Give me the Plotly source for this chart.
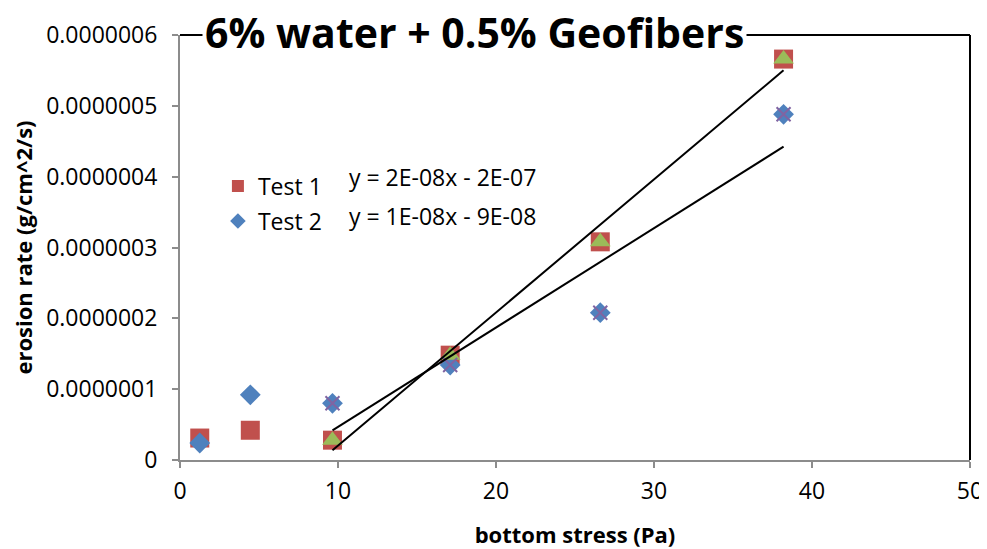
import numpy as np
import plotly.graph_objects as go

# bottom stress (Pa)
stress = [1.25, 4.45, 9.65, 17.1, 26.6, 38.2]
test1 = [3.1e-8, 4.2e-8, 2.8e-8, 1.48e-7, 3.08e-7, 5.66e-7]
test2 = [2.4e-8, 9.2e-8, 8.0e-8, 1.34e-7, 2.08e-7, 4.88e-7]

# points used for the trendlines (last four of each test)
fit_x = stress[2:]
fit1 = test1[2:]
fit2 = test2[2:]

y_ticks = [0, 1e-7, 2e-7, 3e-7, 4e-7, 5e-7, 6e-7]
y_labels = ["0", "0.0000001", "0.0000002", "0.0000003", "0.0000004", "0.0000005", "0.0000006"]
x_ticks = [0, 10, 20, 30, 40, 50]

FONT = "Open Sans"
RED = "#C0504D"
BLUE = "#4F81BD"
GREEN = "#9BBB59"
PURPLE = "#8064A2"

fig = go.Figure()

fig.add_trace(go.Scatter(x=stress, y=test1, mode="markers", name="Test 1", legendgroup="a",
                         marker=dict(symbol="square", size=19, color=RED)))
fig.add_trace(go.Scatter(x=stress, y=test2, mode="markers", name="Test 2", legendgroup="b",
                         marker=dict(symbol="diamond", size=16, color=BLUE)))
fig.add_trace(go.Scatter(x=fit_x, y=fit1, mode="markers", showlegend=False,
                         marker=dict(symbol="triangle-up", size=18, color=GREEN)))
fig.add_trace(go.Scatter(x=fit_x, y=fit2, mode="markers", showlegend=False,
                         marker=dict(symbol="x-thin", size=14,
                                     line=dict(color=PURPLE, width=2))))

# linear trendlines
for fy in (fit1, fit2):
    m, b = np.polyfit(fit_x, fy, 1)
    xs = np.array([fit_x[0], fit_x[-1]])
    fig.add_trace(go.Scatter(x=xs, y=m * xs + b, mode="lines", showlegend=False,
                             line=dict(color="black", width=2)))

# page body has an 8px margin, so the figure is a bit smaller than the window
fig.update_layout(
    width=979, height=541,
    margin=dict(l=172, r=17, t=27, b=89),
    paper_bgcolor="white", plot_bgcolor="white",
    font=dict(family=FONT, size=23, color="black"),
    legend=dict(x=0.048, y=0.695, xanchor="left", yanchor="top",
                font=dict(size=23), bgcolor="rgba(0,0,0,0)",
                itemsizing="constant", tracegroupgap=2, traceorder="grouped"),
    showlegend=True,
)

fig.update_xaxes(range=[0, 50], tickvals=x_ticks, showgrid=False, zeroline=False,
                 showline=True, linecolor="#8c8c8c", linewidth=2,
                 ticks="outside", ticklen=6, tickcolor="#8c8c8c", tickwidth=2,
                 ticklabelstandoff=3, automargin=False, ticklabeloverflow="allow",
                 title=dict(text="<b>bottom stress (Pa)</b>", font=dict(size=22), standoff=24))
fig.update_yaxes(range=[0, 6e-7], tickvals=y_ticks, ticktext=y_labels, showgrid=False,
                 zeroline=False, showline=True, linecolor="#8c8c8c", linewidth=2,
                 ticks="outside", ticklen=6, tickcolor="#8c8c8c", tickwidth=2,
                 ticklabelstandoff=10, automargin=False,
                 title=dict(text="<b>erosion rate (g/cm^2/s)</b>", font=dict(size=22), standoff=8))

# top and right border
fig.add_shape(type="line", xref="paper", yref="paper", x0=0, x1=1, y0=1, y1=1,
              line=dict(color="black", width=2))
fig.add_shape(type="line", xref="paper", yref="paper", x0=1, x1=1, y0=0, y1=1,
              line=dict(color="black", width=2))

fig.add_annotation(text="<b>6% water + 0.5% Geofibers</b>", xref="paper", yref="paper",
                   x=0.373, y=1.008, xanchor="center", yanchor="middle", showarrow=False,
                   font=dict(size=41), bgcolor="white", borderpad=2)
fig.add_annotation(text="y = 2E-08x - 2E-07", xref="paper", yref="paper",
                   x=0.211, y=0.666, xanchor="left", yanchor="middle", showarrow=False,
                   font=dict(size=23))
fig.add_annotation(text="y = 1E-08x - 9E-08", xref="paper", yref="paper",
                   x=0.211, y=0.574, xanchor="left", yanchor="middle", showarrow=False,
                   font=dict(size=23))

fig.write_html("out.html")
